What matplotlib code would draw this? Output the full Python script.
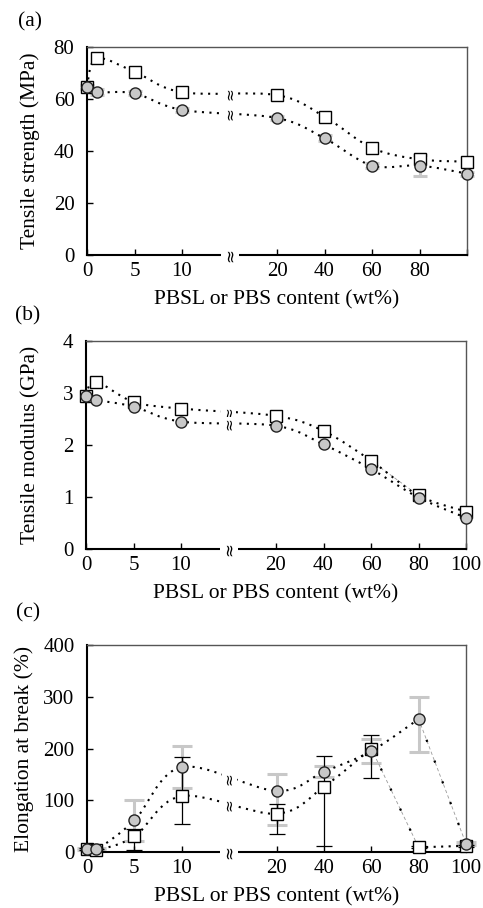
import numpy as np
import matplotlib
matplotlib.use("Agg")
import matplotlib.pyplot as plt
from matplotlib.path import Path
from matplotlib.patches import PathPatch

plt.rcParams['font.family'] = ['Liberation Serif', 'DejaVu Serif']

# PBSL / PBS content (wt%)
content = [0, 1, 5, 10, 20, 40, 60, 80, 100]
tick_values = [0, 5, 10, 20, 40, 60, 80, 100]

# (a) tensile strength (MPa)
ts_square = [64.7, 75.6, 70.5, 62.6, 61.5, 53.2, 41.2, 36.8, 35.9]
ts_circle = [64.7, 62.6, 62.2, 55.8, 52.7, 44.9, 34.4, 34.4, 31.3]
ts_square_err = [1.0, 1.0, 1.0, 1.0, 1.0, 1.0, 1.0, 1.5, 1.0]
ts_circle_err = [0.8, 1.2, 0.8, 0.8, 0.8, 1.2, 0.8, 4.0, 0.8]

# (b) tensile modulus (GPa)
tm_square = [2.95, 3.22, 2.83, 2.70, 2.56, 2.27, 1.70, 1.03, 0.72]
tm_circle = [2.95, 2.87, 2.74, 2.45, 2.37, 2.01, 1.54, 0.99, 0.60]

# (c) elongation at break (%)
el_square = [5, 3, 30, 108, 74, 126, 200, 9, 12]
el_circle = [6, 5, 61, 164, 118, 155, 195, 257, 16]
el_square_lo = [2, 2, 26, 53, 40, 114, 57, 2, 2]
el_square_hi = [2, 2, 14, 75, 19, 60, 27, 2, 2]
el_circle_lo = [2, 2, 40, 40, 66, 11, 23, 63, 3]
el_circle_hi = [2, 2, 40, 40, 32, 11, 23, 42, 3]

FS_TICK = 15
FS_LABEL = 15.5


def xpos(w):
    # broken axis: 0-10 wt% on 5 wt%/unit, 20-100 on 20 wt%/unit
    w = np.asarray(w, dtype=float)
    return np.where(w <= 10, w / 5.0, 3 + w / 20.0)


def smooth(ax, x, y, **kw):
    x = np.asarray(x, float)
    y = np.asarray(y, float)
    n = len(x)
    verts = [(x[0], y[0])]
    codes = [Path.MOVETO]
    for i in range(n - 1):
        i0 = max(i - 1, 0)
        i3 = min(i + 2, n - 1)
        c1 = (x[i] + (x[i + 1] - x[i0]) / 6, y[i] + (y[i + 1] - y[i0]) / 6)
        c2 = (x[i + 1] - (x[i3] - x[i]) / 6, y[i + 1] - (y[i3] - y[i]) / 6)
        verts += [c1, c2, (x[i + 1], y[i + 1])]
        codes += [Path.CURVE4] * 3
    ax.add_patch(PathPatch(Path(verts, codes), fill=False, **kw))


dot = dict(edgecolor='black', lw=1.5, linestyle=(0, (1, 2.6)), zorder=3)
thin = dict(color='#9a9a9a', lw=0.6, linestyle=(0, (4, 3)), zorder=2)
sparse = dict(color='black', lw=1.6, linestyle=(0, (1, 9)), zorder=3)
brk = dict(rotation=90, ha='center', va='center', family='DejaVu Sans',
           zorder=6, bbox=dict(boxstyle='square,pad=0.0', fc='white', ec='none'))


def style_axes(ax, ylim, yticks, show100=True):
    ax.set_xlim(0, 8)
    ax.set_ylim(*ylim)
    ax.set_yticks(yticks)
    labels = [str(t) for t in tick_values]
    if not show100:
        labels[-1] = ''
    ax.set_xticks(xpos(tick_values))
    ax.set_xticklabels(labels)
    ax.tick_params(direction='in', labelsize=FS_TICK, length=4, width=1)
    ax.tick_params(axis='y', pad=9)
    ax.tick_params(axis='x', pad=5)
    for s in ['left', 'bottom']:
        ax.spines[s].set_linewidth(1.5)
    for s in ['top', 'right']:
        ax.spines[s].set_linewidth(1.0)
        ax.spines[s].set_color('#555555')
    ax.set_xlabel('PBSL or PBS content (wt%)', fontsize=FS_LABEL, labelpad=7)
    # axis break mark
    ax.text(3, ylim[0], '≈', fontsize=12, clip_on=False, **brk)


def break_on_line(ax, ys):
    y = (ys[3] + ys[4]) / 2
    ax.text(3, y, '≈', fontsize=11, **brk)


def markers(ax, x, sq, ci):
    ax.plot(x, sq, 's', ms=8, mfc='white', mec='black', mew=1.0,
            zorder=4, clip_on=False)
    ax.plot(x, ci, 'o', ms=8, mfc='#c8c8c8', mec='#222222', mew=1.0,
            zorder=5, clip_on=False)


fig = plt.figure(figsize=(4.83, 9.08), dpi=100)
W, H = 483.0, 908.0


def axes_px(l, t, r, b):
    return fig.add_axes([l / W, 1 - b / H, (r - l) / W, (b - t) / H])


x = xpos(content)

# ---- (a)
ax = axes_px(87, 47, 467, 255)
ax.errorbar(x, ts_circle, yerr=ts_circle_err, fmt='none', ecolor='#c8c8c8',
            elinewidth=2.2, capsize=5, capthick=2.2, zorder=1, clip_on=False)
ax.errorbar(x, ts_square, yerr=ts_square_err, fmt='none', ecolor='black',
            elinewidth=0.8, capsize=4, capthick=0.8, zorder=1, clip_on=False)
smooth(ax, x, ts_square, **dot)
smooth(ax, x, ts_circle, **dot)
break_on_line(ax, ts_square)
break_on_line(ax, ts_circle)
markers(ax, x, ts_square, ts_circle)
style_axes(ax, (0, 80), [0, 20, 40, 60, 80], show100=False)
ax.set_ylabel('Tensile strength (MPa)', fontsize=FS_LABEL, labelpad=10)

# ---- (b)
ax = axes_px(86, 341, 466, 549)
smooth(ax, x, tm_square, **dot)
smooth(ax, x, tm_circle, **dot)
ax.plot(x[6:8], tm_square[6:8], **thin)
break_on_line(ax, tm_square)
break_on_line(ax, tm_circle)
markers(ax, x, tm_square, tm_circle)
style_axes(ax, (0, 4), [0, 1, 2, 3, 4])
ax.set_ylabel('Tensile modulus (GPa)', fontsize=FS_LABEL, labelpad=16)

# ---- (c)
ax = axes_px(87, 645, 466, 852)
ax.errorbar(x, el_circle, yerr=[el_circle_lo, el_circle_hi], fmt='none',
            ecolor='#c8c8c8', elinewidth=2.2, capsize=7, capthick=2.2,
            zorder=1, clip_on=False)
ax.errorbar(x, el_square, yerr=[el_square_lo, el_square_hi], fmt='none',
            ecolor='black', elinewidth=0.9, capsize=6, capthick=0.9,
            zorder=1.5, clip_on=False)
smooth(ax, x[:7], el_square[:7], **dot)
ax.plot(x[6:8], el_square[6:8], **thin)
ax.plot(x[6:8], el_square[6:8], **sparse)
ax.plot(x[7:], el_square[7:], color='black', lw=1.5, linestyle=(0, (1, 2.6)),
        zorder=3)
smooth(ax, x[:8], el_circle[:8], **dot)
ax.plot(x[7:], el_circle[7:], **thin)
ax.plot(x[7:], el_circle[7:], **sparse)
break_on_line(ax, el_square)
break_on_line(ax, el_circle)
markers(ax, x, el_square, el_circle)
style_axes(ax, (0, 400), [0, 100, 200, 300, 400])
ax.set_ylabel('Elongation at break (%)', fontsize=FS_LABEL, labelpad=7)

fig.text(30 / W, 1 - 22 / H, '(a)', fontsize=FS_LABEL, ha='center', va='center')
fig.text(28 / W, 1 - 316 / H, '(b)', fontsize=FS_LABEL, ha='center', va='center')
fig.text(28 / W, 1 - 613 / H, '(c)', fontsize=FS_LABEL, ha='center', va='center')

fig.savefig('out.png', dpi=100)
